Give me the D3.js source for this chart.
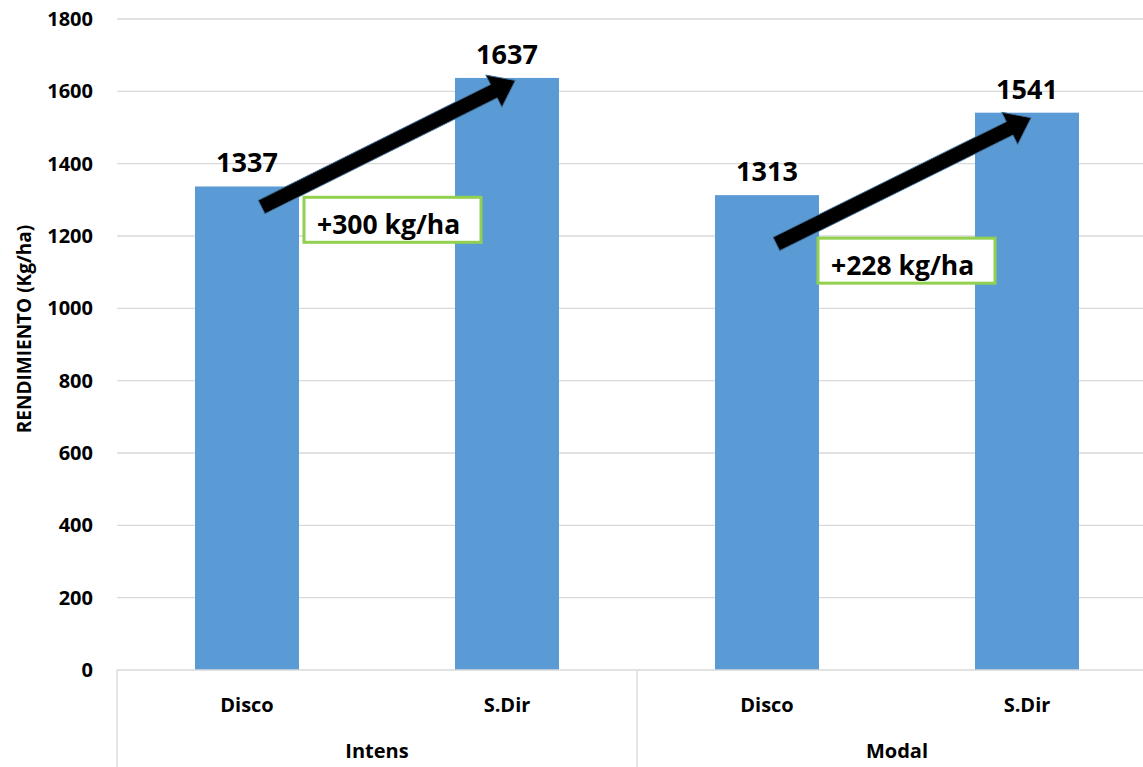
<!DOCTYPE html>
<html>
<head>
<meta charset="utf-8">
<script src="https://cdn.jsdelivr.net/npm/d3@7"></script>
<style>
  html, body { margin: 0; padding: 0; background: #ffffff; }
  svg { display: block; }
  text { font-family: "Open Sans", "DejaVu Sans", sans-serif; font-weight: 700; fill: #000; }
</style>
</head>
<body>
<svg id="chart" width="1143" height="767"></svg>
<script>
// ---- data ----
const groups = ["Intens", "Modal"];
const categories = ["Disco", "S.Dir"];
const values = [1337, 1637, 1313, 1541]; // Intens-Disco, Intens-S.Dir, Modal-Disco, Modal-S.Dir
const yTicks = [0, 200, 400, 600, 800, 1000, 1200, 1400, 1600, 1800];
const yTitle = "RENDIMIENTO (Kg/ha)";
// annotations: arrow from Disco to S.Dir within each group (value units), and difference boxes
const diffLabels = ["+300 kg/ha", "+228 kg/ha"];
const arrowFromVal = [1280, 1178];
const arrowToVal = [1630, 1527];
const boxTopVal = [1307, 1194];

// ---- layout ----
const svg = d3.select("#chart");
const mLeft = 117, mRight = 1157, mTop = 19, mBottom = 670;

const keys = [];
groups.forEach(g => categories.forEach(c => keys.push(g + "|" + c)));

const x = d3.scaleBand().domain(keys).range([mLeft, mRight]).paddingInner(0.6).paddingOuter(0.3);
const y = d3.scaleLinear().domain([0, 1800]).range([mBottom, mTop]);
const gx = d3.scaleBand().domain(groups).range([mLeft, mRight]);

// gridlines
svg.append("g").selectAll("line").data(yTicks.filter(t => t > 0)).join("line")
  .attr("x1", mLeft).attr("x2", 1143)
  .attr("y1", d => y(d)).attr("y2", d => y(d))
  .attr("stroke", "#d9d9d9").attr("stroke-width", 1.3);

// y axis tick labels via d3 axis
const yAxis = svg.append("g").attr("transform", `translate(${mLeft},0)`)
  .call(d3.axisLeft(y).tickValues(yTicks).tickSize(0).tickPadding(24).tickFormat(d3.format("d")));
yAxis.select(".domain").remove();
yAxis.attr("font-family", null).attr("font-size", null);
yAxis.selectAll("text").style("font-size", "20px").style("font-family", "'Open Sans', sans-serif").style("font-weight", 700).attr("fill", "#000");

// y axis title
svg.append("text")
  .attr("transform", `translate(31,${329}) rotate(-90)`)
  .attr("text-anchor", "middle")
  .attr("font-size", 19)
  .text(yTitle);

// bars
svg.append("g").selectAll("rect").data(values).join("rect")
  .attr("x", (d, i) => x(keys[i]))
  .attr("width", x.bandwidth())
  .attr("y", d => y(d))
  .attr("height", d => y(0) - y(d))
  .attr("fill", "#5b9bd5");

// baseline
svg.append("line").attr("x1", mLeft).attr("x2", 1143).attr("y1", y(0)).attr("y2", y(0))
  .attr("stroke", "#d9d9d9").attr("stroke-width", 1.3);

// group separators
svg.append("g").selectAll("line").data([mLeft, gx("Modal"), mRight]).join("line")
  .attr("x1", d => d).attr("x2", d => d)
  .attr("y1", y(0)).attr("y2", 767)
  .attr("stroke", "#d9d9d9").attr("stroke-width", 1.3);

// category labels
svg.append("g").selectAll("text").data(keys).join("text")
  .attr("x", d => x(d) + x.bandwidth() / 2)
  .attr("y", 712)
  .attr("text-anchor", "middle")
  .attr("font-size", 20)
  .text(d => d.split("|")[1]);

// group labels
svg.append("g").selectAll("text").data(groups).join("text")
  .attr("x", d => gx(d) + gx.bandwidth() / 2)
  .attr("y", 758)
  .attr("text-anchor", "middle")
  .attr("font-size", 20)
  .text(d => d);

// value labels
svg.append("g").selectAll("text").data(values).join("text")
  .attr("x", (d, i) => x(keys[i]) + x.bandwidth() / 2)
  .attr("y", d => y(d) - 14)
  .attr("text-anchor", "middle")
  .attr("font-size", 27)
  .text(d => d);

// difference boxes
groups.forEach((g, gi) => {
  const discoKey = g + "|" + categories[0];
  const bx = x(discoKey) + x.bandwidth() + (gi === 0 ? 5 : -1);
  const by = y(boxTopVal[gi]);
  svg.append("rect")
    .attr("x", bx).attr("y", by).attr("width", 177).attr("height", 45)
    .attr("fill", "#ffffff").attr("stroke", "#92d050").attr("stroke-width", 3);
  svg.append("text")
    .attr("x", bx + 13).attr("y", by + 37)
    .attr("font-size", 26.5)
    .text(diffLabels[gi]);
});

// arrows
function arrowPath(x0, y0, x1, y1, shaftW, headW, headL) {
  const dx = x1 - x0, dy = y1 - y0;
  const L = Math.hypot(dx, dy);
  const ux = dx / L, uy = dy / L;
  const nx = -uy, ny = ux;
  const bx = x1 - ux * headL, by = y1 - uy * headL;
  const pts = [
    [x0 + nx * shaftW / 2, y0 + ny * shaftW / 2],
    [bx + nx * shaftW / 2, by + ny * shaftW / 2],
    [bx + nx * headW / 2, by + ny * headW / 2],
    [x1, y1],
    [bx - nx * headW / 2, by - ny * headW / 2],
    [bx - nx * shaftW / 2, by - ny * shaftW / 2],
    [x0 - nx * shaftW / 2, y0 - ny * shaftW / 2]
  ];
  return d3.line()(pts) + "Z";
}
const fromFrac = [0.64, 0.59], toFrac = [0.58, 0.54];
groups.forEach((g, gi) => {
  const k0 = g + "|" + categories[0], k1 = g + "|" + categories[1];
  const x0 = x(k0) + x.bandwidth() * fromFrac[gi];
  const y0 = y(arrowFromVal[gi]);
  const x1 = x(k1) + x.bandwidth() * toFrac[gi];
  const y1 = y(arrowToVal[gi]);
  svg.append("path")
    .attr("d", arrowPath(x0, y0, x1, y1, 15, 36, 24))
    .attr("fill", "#000000")
    .attr("stroke", "#41719c").attr("stroke-width", 1);
});
</script>
</body>
</html>
